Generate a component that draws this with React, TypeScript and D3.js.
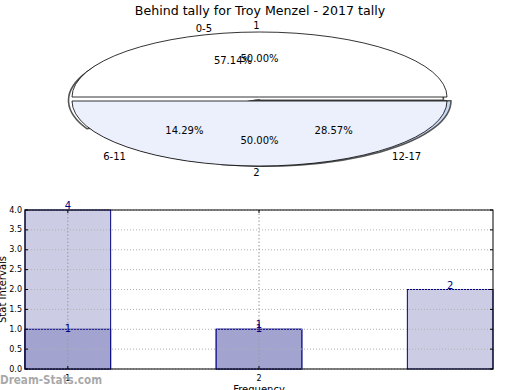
import React from "react";
import * as d3 from "d3";

const title = "Behind tally for Troy Menzel - 2017 tally";
const pieOuterLabels = ["0-5", "6-11", "12-17"];
const pieOuterValues = [4, 1, 2];
const pieInnerLabels = ["1", "2"];
const pieInnerValues = [1, 1];

const barPositions = [1, 2, 3];
const barLightValues = [4, 1, 2];
const barDarkPositions = [1, 2];
const barDarkValues = [1, 1];
const yTicks = [0, 0.5, 1, 1.5, 2, 2.5, 3, 3.5, 4];
const xTicks = [1, 2];

const FONT = "DejaVu Sans, Verdana, sans-serif";

// styling: wedge colours and pixel shifts of each wedge / its texts
const outerColors = ["#ffffff", "#f4f6fb", "#c9d8f3"];
const outerShift = [[-3.5, 1.2], [0, 0.5], [4, 1.5]];
const outerTextShift = [[-1.5, 0], [-5, 0.5], [4, 0.5]];
const innerColors = ["#ffffff", "#ebf0fc"];
const innerShift = [[0, -2], [0, 2]];

function Pie({ cx, cy, rx, ry, values, labels, colors, shift, textShift, stroke, strokeWidth, showText, showWedges }: any) {
  const pie = d3
    .pie<number>()
    .sort(null)
    .startAngle(Math.PI / 2)
    .endAngle(Math.PI / 2 - 2 * Math.PI);
  const arcs = pie(values);
  const arc = d3.arc<any>().innerRadius(0).outerRadius(rx);
  const total = d3.sum(values);
  const k = ry / rx;
  return (
    <g>
      {showWedges &&
        arcs.map((a: any, i: number) => {
          const [dx, dy] = shift[i];
          return (
            <g key={i} transform={`translate(${cx + dx},${cy + dy}) scale(1,${k})`}>
              <path
                d={arc(a) as string}
                fill={colors[i]}
                stroke={stroke}
                strokeWidth={strokeWidth}
                vectorEffect="non-scaling-stroke"
                strokeLinejoin="round"
              />
            </g>
          );
        })}
      {showText &&
        arcs.map((a: any, i: number) => {
          const mid = (a.startAngle + a.endAngle) / 2;
          const sx = Math.sin(mid);
          const sy = -Math.cos(mid);
          const [dx, dy] = textShift[i];
          const px = cx + dx + sx * rx * 0.6;
          const py = cy + dy + sy * ry * 0.6;
          const lx = cx + dx + sx * rx * 1.1;
          const ly = cy + dy + sy * ry * 1.1;
          const pct = ((values[i] / total) * 100).toFixed(2) + "%";
          return (
            <g key={"t" + i}>
              <text x={px} y={py} textAnchor="middle" dominantBaseline="central" fontSize={10} fontFamily={FONT} fill="#000">
                {pct}
              </text>
              <text
                x={lx}
                y={ly}
                textAnchor={sx > 1e-9 ? "start" : "end"}
                dominantBaseline="central"
                fontSize={10}
                fontFamily={FONT}
                fill="#000"
              >
                {labels[i]}
              </text>
            </g>
          );
        })}
    </g>
  );
}

export default function App() {
  const W = 520;
  const H = 390;
  const plot = { left: 25, right: 493, top: 210, bottom: 369 };
  const x = d3.scaleLinear().domain([0.776, 3.224]).range([plot.left, plot.right]);
  const y = d3.scaleLinear().domain([0, 4]).range([plot.bottom, plot.top]);
  const bw = 0.448;
  const light = "#cccce5";
  const dark = "#a3a3d0";
  const edge = "#000080";

  const outer = { cx: 259.5, cy: 99.2, rx: 187.5, ry: 65.5, values: pieOuterValues, labels: pieOuterLabels, colors: outerColors, shift: outerShift, textShift: outerTextShift };
  const inner = { cx: 259.5, cy: 99, rx: 187.5, ry: 65, values: pieInnerValues, labels: pieInnerLabels, colors: innerColors, shift: innerShift, textShift: innerShift };

  return (
    <div style={{ position: "absolute", left: 0, top: 0 }}>
      <svg width={W} height={H} style={{ display: "block", background: "#fff" }}>
        <text x={260} y={15} textAnchor="middle" fontSize={12.6} fontFamily={FONT} fill="#000">
          {title}
        </text>

        {/* pies */}
        <Pie {...outer} stroke="#555" strokeWidth={1.6} showWedges={true} showText={false} />
        <Pie {...inner} stroke="#000" strokeWidth={0.8} showWedges={true} showText={false} />
        <Pie {...outer} showWedges={false} showText={true} />
        <Pie {...inner} showWedges={false} showText={true} />

        {/* bar chart */}
        <rect x={plot.left} y={plot.top} width={plot.right - plot.left} height={plot.bottom - plot.top} fill="#fff" />
        {barPositions.map((p, i) => (
          <rect key={"l" + i} x={x(p - bw / 2)} y={y(barLightValues[i])} width={x(p + bw / 2) - x(p - bw / 2)} height={y(0) - y(barLightValues[i])} fill={light} stroke={edge} strokeWidth={1} />
        ))}
        {barDarkPositions.map((p, i) => (
          <rect key={"d" + i} x={x(p - bw / 2)} y={y(barDarkValues[i])} width={x(p + bw / 2) - x(p - bw / 2)} height={y(0) - y(barDarkValues[i])} fill={dark} stroke={edge} strokeWidth={1} />
        ))}
        {/* grid */}
        {yTicks.map((t) => (
          <line key={"gy" + t} x1={plot.left} x2={plot.right} y1={y(t)} y2={y(t)} stroke="#b0b0b0" strokeWidth={1} strokeDasharray="1,2" />
        ))}
        {xTicks.map((t) => (
          <line key={"gx" + t} x1={x(t)} x2={x(t)} y1={plot.top} y2={plot.bottom} stroke="#999" strokeWidth={1} strokeDasharray="1.5,2" />
        ))}
        {/* frame */}
        <rect x={plot.left} y={plot.top} width={plot.right - plot.left} height={plot.bottom - plot.top} fill="none" stroke="#000" strokeWidth={1} />
        {/* ticks */}
        {yTicks.map((t) => (
          <g key={"ty" + t}>
            <line x1={plot.left} x2={plot.left + 3} y1={y(t)} y2={y(t)} stroke="#000" />
            <line x1={plot.right - 3} x2={plot.right} y1={y(t)} y2={y(t)} stroke="#000" />
            <text x={plot.left - 3} y={y(t)} textAnchor="end" dominantBaseline="central" fontSize={8} fontFamily={FONT} fill="#000">
              {t.toFixed(1)}
            </text>
          </g>
        ))}
        {xTicks.map((t) => (
          <g key={"tx" + t}>
            <line x1={x(t)} x2={x(t)} y1={plot.bottom - 3} y2={plot.bottom} stroke="#000" />
            <line x1={x(t)} x2={x(t)} y1={plot.top} y2={plot.top + 3} stroke="#000" />
            <text x={x(t)} y={plot.bottom + 9} textAnchor="middle" dominantBaseline="central" fontSize={8} fontFamily={FONT} fill="#000">
              {t}
            </text>
          </g>
        ))}
        {/* bar value labels */}
        {barPositions.map((p, i) => (
          <text key={"vl" + i} x={x(p)} y={y(barLightValues[i]) - 1} textAnchor="middle" fontSize={10} fontFamily={FONT} fill={edge}>
            {barLightValues[i]}
          </text>
        ))}
        {barDarkPositions.map((p, i) => (
          <text key={"vd" + i} x={x(p)} y={y(barDarkValues[i]) + 3} textAnchor="middle" fontSize={10} fontFamily={FONT} fill={edge}>
            {barDarkValues[i]}
          </text>
        ))}
        {/* axis titles */}
        <text transform={`translate(6,${(plot.top + plot.bottom) / 2}) rotate(-90)`} textAnchor="middle" fontSize={10} fontFamily={FONT} fill="#000">
          Stat Intervals
        </text>
        <text x={(plot.left + plot.right) / 2} y={393} textAnchor="middle" fontSize={10} fontFamily={FONT} fill="#000">
          Frequency
        </text>
        <text x={0} y={384} fontSize={12} fontWeight="bold" fontFamily={FONT} fill="#999" fillOpacity={0.85} textLength={102} lengthAdjust="spacingAndGlyphs">
          Dream-Stats.com
        </text>
      </svg>
    </div>
  );
}
